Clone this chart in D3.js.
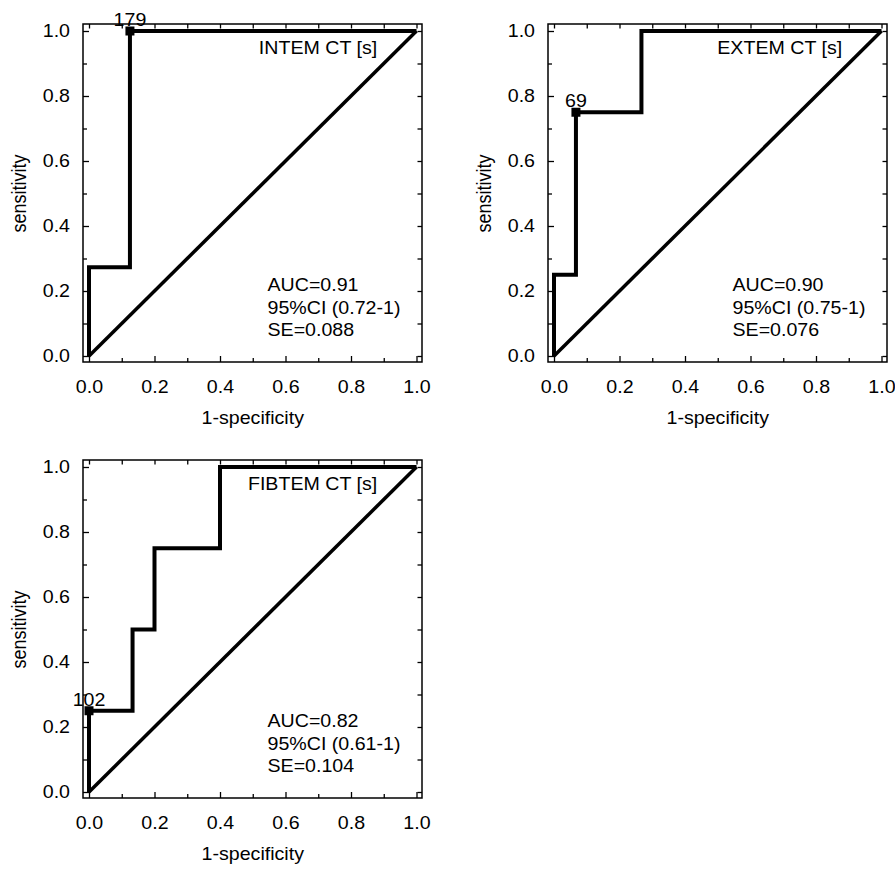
<html>

<head>
  <style>
    body {
      margin: 0;
      background: #fff;
    }
    text {
      font-family: "Liberation Sans", Arial, sans-serif;
      fill: #000;
    }
    .tick line {
      stroke: #000;
      stroke-width: 1.3;
    }
  </style>
  <script src="https://d3js.org/d3.v7.min.js"></script>
</head>

<body>
  <svg></svg>
  <script type="text/javascript">
    // ROC data
    var intemX = [0, 0, 0.125, 0.125, 1]
    var intemY = [0, 0.273, 0.273, 1, 1]
    var extemX = [0, 0, 0.067, 0.067, 0.267, 0.267, 1]
    var extemY = [0, 0.25, 0.25, 0.75, 0.75, 1, 1]
    var fibtemX = [0, 0, 0.133, 0.133, 0.2, 0.2, 0.4, 0.4, 1]
    var fibtemY = [0, 0.25, 0.25, 0.5, 0.5, 0.75, 0.75, 1, 1]

    var titles = ["INTEM CT [s]", "EXTEM CT [s]", "FIBTEM CT [s]"]
    var cutX = [0.125, 0.067, 0]
    var cutY = [1, 0.75, 0.25]
    var cutLabels = ["179", "69", "102"]
    var aucLines = [
      ["AUC=0.91", "95%CI (0.72-1)", "SE=0.088"],
      ["AUC=0.90", "95%CI (0.75-1)", "SE=0.076"],
      ["AUC=0.82", "95%CI (0.61-1)", "SE=0.104"]
    ]

    var majorTicks = [0, 0.2, 0.4, 0.6, 0.8, 1.0]
    var minorTicks = [0.1, 0.3, 0.5, 0.7, 0.9]
    var allTicks = [0, 0.1, 0.2, 0.3, 0.4, 0.5, 0.6, 0.7, 0.8, 0.9, 1.0]

    var w = 895
    var h = 869
    var plotW = 327.5
    var plotH = 325
    var fontSize = 18
    var sx = 1.09 // the original figure is a little wider than tall
    var origins = [[89, 31], [554, 31], [89, 467]]

    var svg = d3.select("svg")
      .attr("width", w)
      .attr("height", h)

    // widen horizontal text a bit, keeping its anchor point
    var stretch = function(sel) {
      sel.each(function() {
        var t = d3.select(this)
        var tx = +t.attr("x") || 0
        var ty = +t.attr("y") || 0
        t.attr("x", 0).attr("y", 0)
          .attr("transform", "translate(" + tx + "," + ty + ") scale(" + sx + ",1)")
      })
    }

    var drawPanel = function(i, xs, ys) {
      var x0 = origins[i][0]
      var y0 = origins[i][1]
      var xScale = d3.scaleLinear().domain([0, 1]).range([x0, x0 + plotW])
      var yScale = d3.scaleLinear().domain([0, 1]).range([y0 + plotH, y0])

      var left = xScale(0) - 6
      var right = xScale(1) + 5.5
      var top = yScale(1) - 7
      var bottom = yScale(0) + 6

      var g = svg.append("g")

      // frame
      g.append("rect")
        .attr("x", left)
        .attr("y", top)
        .attr("width", right - left)
        .attr("height", bottom - top)
        .attr("fill", "none")
        .attr("stroke", "#000")
        .attr("stroke-width", 1.5)

      // bottom axis
      g.append("g")
        .attr("transform", "translate(0," + bottom + ")")
        .call(d3.axisBottom(xScale).tickValues(majorTicks).tickSize(-6).tickPadding(18).tickFormat(d3.format(".1f")))
        .call(function(a) { a.select(".domain").remove() })
        .selectAll("text").style("font-size", fontSize + "px").attr("fill", "#000")
        .call(stretch)
      g.append("g")
        .attr("transform", "translate(0," + bottom + ")")
        .call(d3.axisBottom(xScale).tickValues(minorTicks).tickSize(-4).tickFormat(""))
        .call(function(a) { a.select(".domain").remove() })

      // left axis
      g.append("g")
        .attr("transform", "translate(" + left + ",0)")
        .call(d3.axisLeft(yScale).tickValues(majorTicks).tickSize(-6).tickPadding(13).tickFormat(d3.format(".1f")))
        .call(function(a) { a.select(".domain").remove() })
        .selectAll("text").style("font-size", fontSize + "px").attr("fill", "#000")
        .call(stretch)
      g.append("g")
        .attr("transform", "translate(" + left + ",0)")
        .call(d3.axisLeft(yScale).tickValues(minorTicks).tickSize(-4).tickFormat(""))
        .call(function(a) { a.select(".domain").remove() })

      // top and right ticks
      g.append("g")
        .attr("transform", "translate(0," + top + ")")
        .call(d3.axisTop(xScale).tickValues(allTicks).tickSize(-4.5).tickFormat(""))
        .call(function(a) { a.select(".domain").remove() })
      g.append("g")
        .attr("transform", "translate(" + right + ",0)")
        .call(d3.axisRight(yScale).tickValues(allTicks).tickSize(-4.5).tickFormat(""))
        .call(function(a) { a.select(".domain").remove() })

      // axis titles
      g.append("text")
        .attr("transform", "translate(" + (left - 63.5) + "," + (y0 + plotH / 2) + ") scale(" + sx + ",1) rotate(-90)")
        .attr("text-anchor", "middle")
        .attr("dy", "0.35em")
        .style("font-size", "18px")
        .text("sensitivity")
      g.append("text")
        .attr("x", x0 + plotW / 2)
        .attr("y", bottom + 56)
        .attr("dy", "0.35em")
        .attr("text-anchor", "middle")
        .style("font-size", fontSize + "px")
        .text("1-specificity")
        .call(stretch)

      // diagonal
      g.append("line")
        .attr("x1", xScale(0))
        .attr("y1", yScale(0))
        .attr("x2", xScale(1))
        .attr("y2", yScale(1))
        .attr("stroke", "#000")
        .attr("stroke-width", 3.5)

      // ROC curve
      var pts = xs.map(function(d, k) { return [d, ys[k]] })
      var line = d3.line()
        .x(function(d) { return xScale(d[0]) })
        .y(function(d) { return yScale(d[1]) })
      g.append("path")
        .attr("d", line(pts))
        .attr("fill", "none")
        .attr("stroke", "#000")
        .attr("stroke-width", 4)
        .attr("stroke-linejoin", "miter")

      // cutoff marker
      g.append("rect")
        .attr("x", xScale(cutX[i]) - 4.5)
        .attr("y", yScale(cutY[i]) - 4.5)
        .attr("width", 9)
        .attr("height", 9)
        .attr("fill", "#000")
      g.append("text")
        .attr("x", xScale(cutX[i]))
        .attr("y", yScale(cutY[i]) - 5)
        .attr("text-anchor", "middle")
        .style("font-size", fontSize + "px")
        .text(cutLabels[i])
        .call(stretch)

      // panel title
      g.append("text")
        .attr("x", xScale(0.88))
        .attr("y", yScale(0.93))
        .attr("text-anchor", "end")
        .style("font-size", fontSize + "px")
        .text(titles[i])
        .call(stretch)

      // AUC block
      g.selectAll(".auc")
        .data(aucLines[i])
        .enter()
        .append("text")
        .attr("class", "auc")
        .attr("x", xScale(0.545))
        .attr("y", function(d, k) { return yScale(0.2) + k * 22.5 })
        .style("font-size", fontSize + "px")
        .text(function(d) { return d })
        .call(stretch)
    }

    drawPanel(0, intemX, intemY)
    drawPanel(1, extemX, extemY)
    drawPanel(2, fibtemX, fibtemY)
  </script>
</body>

</html>
